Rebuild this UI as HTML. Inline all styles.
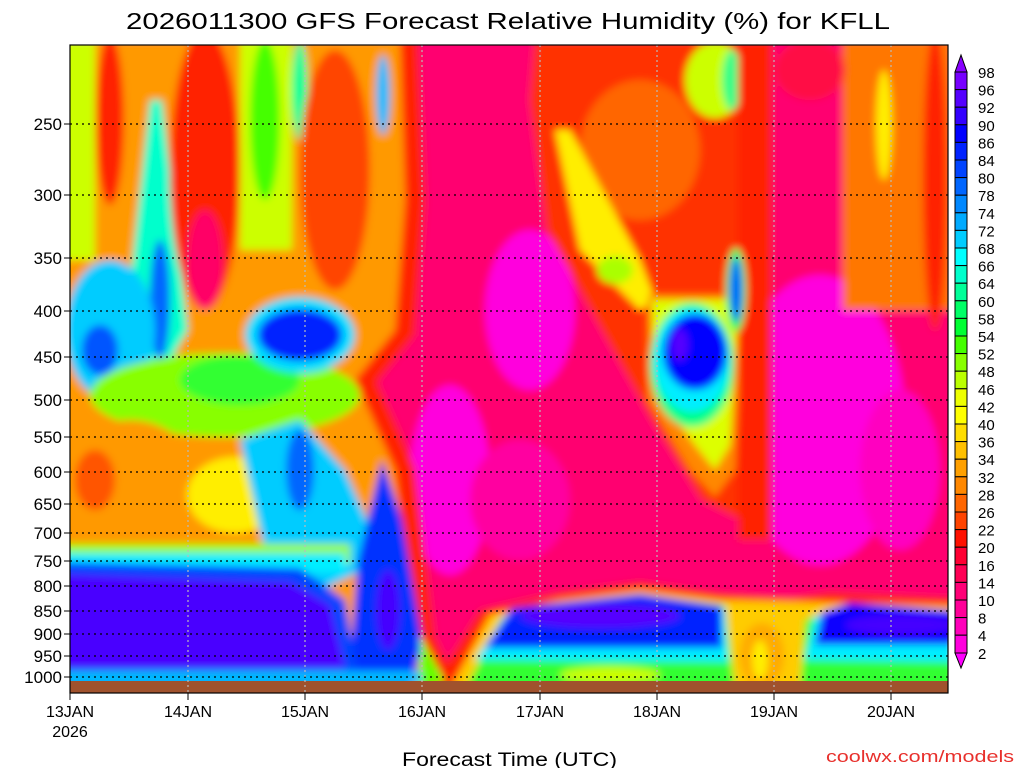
<!DOCTYPE html>
<html><head><meta charset="utf-8"><style>html,body{margin:0;padding:0;background:#fff}svg{display:block}</style></head>
<body>
<svg width="1024" height="768" viewBox="0 0 1024 768" xmlns="http://www.w3.org/2000/svg" font-family="Liberation Sans, sans-serif">
<defs>
<clipPath id="pc"><rect x="70" y="45" width="878" height="648"/></clipPath>
<filter id="bl" x="-5%" y="-5%" width="110%" height="110%"><feGaussianBlur stdDeviation="4"/></filter>
</defs>
<rect width="1024" height="768" fill="#fff"/>
<g clip-path="url(#pc)">
<g filter="url(#bl)">
<rect x="60" y="35" width="900" height="660" fill="#ff0070"/>
<ellipse cx="530" cy="310" rx="45" ry="80" fill="#ff00dd"/>
<ellipse cx="450" cy="480" rx="40" ry="95" fill="#ff00dd"/>
<ellipse cx="820" cy="420" rx="85" ry="145" fill="#ff00dd"/>
<ellipse cx="520" cy="500" rx="50" ry="60" fill="#ff00a0"/>
<ellipse cx="900" cy="470" rx="40" ry="80" fill="#ff00c0"/>
<polyline points="405,40 412,200 402,330 362,380 402,470 422,640 442,682" fill="none" stroke="#ff2200" stroke-width="26"/>
<polygon points="60,40 400,40 405,200 395,330 355,380 395,470 415,640 435,690 60,690" fill="#ff9900"/>
<rect x="60" y="40" width="35" height="220" fill="#ccff00"/>
<ellipse cx="110" cy="120" rx="14" ry="85" fill="#ff2200"/>
<polygon points="150,100 162,100 188,330 145,405 128,300" fill="#00ffcc"/>
<ellipse cx="160" cy="300" rx="10" ry="60" fill="#0066ff"/>
<ellipse cx="205" cy="170" rx="35" ry="140" fill="#ff2200"/>
<ellipse cx="205" cy="260" rx="18" ry="50" fill="#ff0066"/>
<rect x="240" y="40" width="52" height="210" fill="#ccff00"/>
<ellipse cx="265" cy="120" rx="15" ry="80" fill="#44ff00"/>
<ellipse cx="300" cy="90" rx="8" ry="50" fill="#00ff99"/>
<ellipse cx="335" cy="170" rx="35" ry="120" fill="#ff4400"/>
<ellipse cx="383" cy="95" rx="7" ry="40" fill="#00bbff"/>
<ellipse cx="110" cy="330" rx="45" ry="70" fill="#00ccff"/>
<ellipse cx="100" cy="350" rx="18" ry="25" fill="#0055ff"/>
<ellipse cx="225" cy="395" rx="135" ry="42" fill="#88ff00"/>
<ellipse cx="240" cy="380" rx="60" ry="25" fill="#33ff33"/>
<ellipse cx="130" cy="485" rx="70" ry="65" fill="#ff9900"/>
<ellipse cx="95" cy="480" rx="20" ry="30" fill="#ff5500"/>
<ellipse cx="235" cy="495" rx="48" ry="38" fill="#ffee00"/>
<ellipse cx="300" cy="335" rx="55" ry="38" fill="#00ddff"/>
<ellipse cx="300" cy="335" rx="42" ry="26" fill="#0022ff"/>
<polygon points="240,440 300,420 345,470 385,560 300,600 262,540" fill="#00ccff"/>
<ellipse cx="300" cy="470" rx="14" ry="40" fill="#0066ff"/>
<polygon points="382,460 402,520 422,640 412,690 348,690 358,560" fill="#0033ff"/>
<ellipse cx="388" cy="610" rx="12" ry="40" fill="#4400ff"/>
<rect x="60" y="544" width="290" height="20" fill="#99ff00"/>
<rect x="60" y="553" width="285" height="20" fill="#00eeff"/>
<polygon points="60,562 300,568 345,600 360,690 60,690" fill="#0044ff"/>
<polygon points="60,574 290,582 330,605 345,668 60,668" fill="#4a00ff"/>
<rect x="60" y="671" width="380" height="14" fill="#00bbff"/>
<polygon points="535,40 772,40 772,250 742,520 702,500 652,420 602,330 547,230 530,100" fill="#ff3300"/>
<ellipse cx="640" cy="150" rx="60" ry="70" fill="#ff6600"/>
<ellipse cx="715" cy="80" rx="30" ry="38" fill="#ccff00"/>
<ellipse cx="732" cy="80" rx="10" ry="30" fill="#33ff88"/>
<polygon points="555,130 570,130 640,260 655,300 640,310 580,250" fill="#ffee00"/>
<ellipse cx="615" cy="270" rx="18" ry="14" fill="#aaff00"/>
<polygon points="648,295 742,295 735,470 715,497 690,470 648,400" fill="#ff8800"/>
<polygon points="652,300 738,300 730,445 715,470 695,445 655,390" fill="#ddff00"/>
<ellipse cx="692" cy="365" rx="42" ry="62" fill="#00ff88"/>
<ellipse cx="692" cy="360" rx="38" ry="52" fill="#00eeff"/>
<ellipse cx="695" cy="352" rx="32" ry="38" fill="#0000ff"/>
<ellipse cx="680" cy="345" rx="8" ry="16" fill="#5500ff"/>
<rect x="738" y="40" width="34" height="500" fill="#ff2200"/>
<ellipse cx="736" cy="290" rx="10" ry="42" fill="#00ff66"/>
<ellipse cx="736" cy="290" rx="6" ry="32" fill="#0055ff"/>
<rect x="843" y="40" width="110" height="270" fill="#ff7700"/>
<ellipse cx="884" cy="125" rx="8" ry="55" fill="#ffee00"/>
<ellipse cx="935" cy="180" rx="12" ry="150" fill="#ff2200"/>
<ellipse cx="810" cy="70" rx="35" ry="30" fill="#ff1144"/>
<polygon points="430,690 480,610 560,592 640,582 722,593 790,598 830,592 955,598 955,690" fill="#ff2200"/>
<polygon points="450,690 490,615 560,600 640,590 720,600 955,606 955,690" fill="#ffcc00"/>
<polygon points="465,690 500,620 640,595 725,605 735,690" fill="#33ff33"/>
<polygon points="800,690 805,620 850,604 955,612 955,690" fill="#33ff33"/>
<polygon points="475,660 505,615 640,597 725,608 728,662" fill="#00eeff"/>
<polygon points="805,660 815,616 850,606 955,615 955,662" fill="#00eeff"/>
<polygon points="485,648 512,608 640,594 722,606 722,648" fill="#0022ff"/>
<ellipse cx="600" cy="616" rx="80" ry="12" fill="#5500ff"/>
<polygon points="815,645 822,612 850,603 955,611 955,645" fill="#1100ff"/>
<ellipse cx="900" cy="625" rx="55" ry="10" fill="#4400ff"/>
<ellipse cx="762" cy="655" rx="22" ry="32" fill="#ffaa00"/>
<ellipse cx="760" cy="660" rx="8" ry="20" fill="#ffee00"/>
<ellipse cx="610" cy="675" rx="50" ry="8" fill="#ccff00"/>
<polygon points="420,635 445,682 420,690" fill="#66ff00"/>
</g>
<rect x="60" y="681" width="900" height="14" fill="#a0522d"/>
</g>
<g stroke="#000" stroke-width="1.2" stroke-dasharray="2,4">
<line x1="70" x2="948" y1="124" y2="124"/><line x1="70" x2="948" y1="195" y2="195"/>
<line x1="70" x2="948" y1="258" y2="258"/><line x1="70" x2="948" y1="311" y2="311"/>
<line x1="70" x2="948" y1="357" y2="357"/><line x1="70" x2="948" y1="400" y2="400"/>
<line x1="70" x2="948" y1="437" y2="437"/><line x1="70" x2="948" y1="472" y2="472"/>
<line x1="70" x2="948" y1="504" y2="504"/><line x1="70" x2="948" y1="533" y2="533"/>
<line x1="70" x2="948" y1="561" y2="561"/><line x1="70" x2="948" y1="586" y2="586"/>
<line x1="70" x2="948" y1="611" y2="611"/><line x1="70" x2="948" y1="634" y2="634"/>
<line x1="70" x2="948" y1="656" y2="656"/><line x1="70" x2="948" y1="677" y2="677"/>
</g>
<g stroke="#bbb" stroke-width="1.2" stroke-dasharray="2,3">
<line x1="188" x2="188" y1="45" y2="693"/><line x1="305" x2="305" y1="45" y2="693"/>
<line x1="422" x2="422" y1="45" y2="693"/><line x1="540" x2="540" y1="45" y2="693"/>
<line x1="657" x2="657" y1="45" y2="693"/><line x1="774" x2="774" y1="45" y2="693"/>
<line x1="891" x2="891" y1="45" y2="693"/>
</g>
<rect x="70" y="45" width="878" height="648" fill="none" stroke="#000" stroke-width="1.2"/>
<g stroke="#000" stroke-width="1">
<line x1="64" x2="70" y1="124" y2="124"/><line x1="64" x2="70" y1="195" y2="195"/><line x1="64" x2="70" y1="258" y2="258"/><line x1="64" x2="70" y1="311" y2="311"/><line x1="64" x2="70" y1="357" y2="357"/><line x1="64" x2="70" y1="400" y2="400"/><line x1="64" x2="70" y1="437" y2="437"/><line x1="64" x2="70" y1="472" y2="472"/><line x1="64" x2="70" y1="504" y2="504"/><line x1="64" x2="70" y1="533" y2="533"/><line x1="64" x2="70" y1="561" y2="561"/><line x1="64" x2="70" y1="586" y2="586"/><line x1="64" x2="70" y1="611" y2="611"/><line x1="64" x2="70" y1="634" y2="634"/><line x1="64" x2="70" y1="656" y2="656"/><line x1="64" x2="70" y1="677" y2="677"/>
<line x1="70" x2="70" y1="693" y2="700"/><line x1="188" x2="188" y1="693" y2="700"/><line x1="305" x2="305" y1="693" y2="700"/><line x1="422" x2="422" y1="693" y2="700"/><line x1="540" x2="540" y1="693" y2="700"/><line x1="657" x2="657" y1="693" y2="700"/><line x1="774" x2="774" y1="693" y2="700"/><line x1="891" x2="891" y1="693" y2="700"/>
</g>
<text x="126" y="29" font-size="23" textLength="764" lengthAdjust="spacingAndGlyphs" fill="#000">2026011300 GFS Forecast Relative Humidity (%) for KFLL</text>
<g font-size="17" fill="#000" text-anchor="end">
<text x="62" y="130">250</text><text x="62" y="201">300</text><text x="62" y="264">350</text><text x="62" y="317">400</text><text x="62" y="363">450</text><text x="62" y="406">500</text><text x="62" y="443">550</text><text x="62" y="478">600</text><text x="62" y="510">650</text><text x="62" y="539">700</text><text x="62" y="567">750</text><text x="62" y="592">800</text><text x="62" y="617">850</text><text x="62" y="640">900</text><text x="62" y="662">950</text><text x="62" y="683">1000</text>
</g>
<g font-size="16" fill="#000" text-anchor="middle">
<text x="70" y="717">13JAN</text><text x="70" y="737">2026</text><text x="188" y="717">14JAN</text><text x="305" y="717">15JAN</text><text x="422" y="717">16JAN</text><text x="540" y="717">17JAN</text><text x="657" y="717">18JAN</text><text x="774" y="717">19JAN</text><text x="891" y="717">20JAN</text>
</g>
<text x="402" y="766" font-size="19" textLength="215" lengthAdjust="spacingAndGlyphs" fill="#000">Forecast Time (UTC)</text>
<text x="826" y="762" font-size="17" textLength="188" lengthAdjust="spacingAndGlyphs" fill="#e8302c">coolwx.com/models</text>
<g stroke="#000" stroke-width="1">
<polygon points="955,72 967,72 961,55" fill="#8800ff"/>
<polygon points="955,653 967,653 961,668" fill="#ff00ff"/>
<rect x="955" y="72.0" width="12" height="17.6" fill="#7700ff"/>
<rect x="955" y="89.6" width="12" height="17.6" fill="#5500ff"/>
<rect x="955" y="107.2" width="12" height="17.6" fill="#3300ff"/>
<rect x="955" y="124.8" width="12" height="17.6" fill="#0000ff"/>
<rect x="955" y="142.4" width="12" height="17.6" fill="#0022ff"/>
<rect x="955" y="160.0" width="12" height="17.6" fill="#0044ff"/>
<rect x="955" y="177.6" width="12" height="17.6" fill="#0066ff"/>
<rect x="955" y="195.2" width="12" height="17.6" fill="#0088ff"/>
<rect x="955" y="212.8" width="12" height="17.6" fill="#00aaff"/>
<rect x="955" y="230.4" width="12" height="17.6" fill="#00ccff"/>
<rect x="955" y="248.0" width="12" height="17.6" fill="#00ffff"/>
<rect x="955" y="265.6" width="12" height="17.6" fill="#00ffcc"/>
<rect x="955" y="283.2" width="12" height="17.6" fill="#00ff99"/>
<rect x="955" y="300.8" width="12" height="17.6" fill="#00ff66"/>
<rect x="955" y="318.4" width="12" height="17.6" fill="#00ff33"/>
<rect x="955" y="336.0" width="12" height="17.6" fill="#44ff00"/>
<rect x="955" y="353.6" width="12" height="17.6" fill="#88ff00"/>
<rect x="955" y="371.2" width="12" height="17.6" fill="#bbff00"/>
<rect x="955" y="388.8" width="12" height="17.6" fill="#eeff00"/>
<rect x="955" y="406.4" width="12" height="17.6" fill="#ffff00"/>
<rect x="955" y="424.0" width="12" height="17.6" fill="#ffdd00"/>
<rect x="955" y="441.6" width="12" height="17.6" fill="#ffc000"/>
<rect x="955" y="459.2" width="12" height="17.6" fill="#ffa000"/>
<rect x="955" y="476.8" width="12" height="17.6" fill="#ff8800"/>
<rect x="955" y="494.4" width="12" height="17.6" fill="#ff6600"/>
<rect x="955" y="512.0" width="12" height="17.6" fill="#ff4400"/>
<rect x="955" y="529.6" width="12" height="17.6" fill="#ff1100"/>
<rect x="955" y="547.2" width="12" height="17.6" fill="#ff0033"/>
<rect x="955" y="564.8" width="12" height="17.6" fill="#ff0055"/>
<rect x="955" y="582.4" width="12" height="17.6" fill="#ff0077"/>
<rect x="955" y="600.0" width="12" height="17.6" fill="#ff0099"/>
<rect x="955" y="617.6" width="12" height="17.6" fill="#ff00bb"/>
<rect x="955" y="635.2" width="12" height="17.8" fill="#ff00dd"/>
</g>
<g font-size="15" fill="#000">
<text x="978" y="78">98</text><text x="978" y="95.6">96</text><text x="978" y="113.2">92</text><text x="978" y="130.8">90</text><text x="978" y="148.4">86</text><text x="978" y="166">84</text><text x="978" y="183.6">80</text><text x="978" y="201.2">78</text><text x="978" y="218.8">74</text><text x="978" y="236.4">72</text><text x="978" y="254">68</text><text x="978" y="271.6">66</text><text x="978" y="289.2">64</text><text x="978" y="306.8">60</text><text x="978" y="324.4">58</text><text x="978" y="342">54</text><text x="978" y="359.6">52</text><text x="978" y="377.2">48</text><text x="978" y="394.8">46</text><text x="978" y="412.4">42</text><text x="978" y="430">40</text><text x="978" y="447.6">36</text><text x="978" y="465.2">34</text><text x="978" y="482.8">32</text><text x="978" y="500.4">28</text><text x="978" y="518">26</text><text x="978" y="535.6">22</text><text x="978" y="553.2">20</text><text x="978" y="570.8">16</text><text x="978" y="588.4">14</text><text x="978" y="606">10</text><text x="978" y="623.6">8</text><text x="978" y="641.2">4</text><text x="978" y="658.8">2</text>
</g>
</svg>
</body></html>
